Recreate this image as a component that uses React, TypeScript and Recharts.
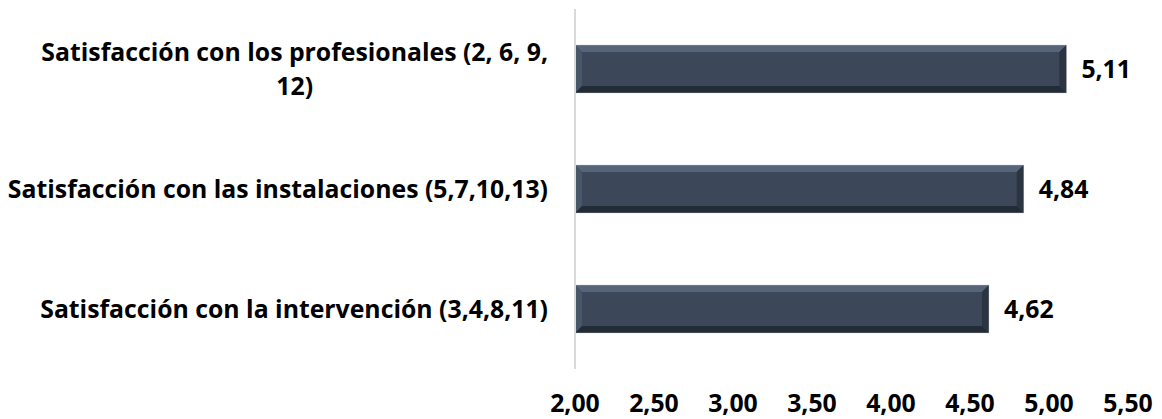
import React from 'react';
import { BarChart, Bar, XAxis, YAxis, LabelList } from 'recharts';

const categories = [
  'Satisfacción con los profesionales (2, 6, 9, 12)',
  'Satisfacción con las instalaciones (5,7,10,13)',
  'Satisfacción con la intervención (3,4,8,11)',
];
const scores = [5.11, 4.84, 4.62];
const xTicks = [2, 2.5, 3, 3.5, 4, 4.5, 5, 5.5];

const data = categories.map((name, i) => ({ name, score: scores[i] }));

const FONT = '"Open Sans", sans-serif';
const FONT_SIZE = 24.8;
const fmt = (v: number) => v.toFixed(2).replace('.', ',');

let ctx: CanvasRenderingContext2D | null = null;
const measure = (s: string) => {
  if (!ctx) ctx = document.createElement('canvas').getContext('2d');
  if (!ctx) return s.length * 11.7;
  ctx.font = `bold ${FONT_SIZE}px "Open Sans"`;
  return ctx.measureText(s).width;
};

// greedy wrap by pixel width, like the office chart does
const wrap = (label: string, maxW: number) => {
  const words = label.split(' ');
  const lines: string[] = [];
  let cur = '';
  words.forEach((w) => {
    const next = cur ? cur + ' ' + w : w;
    if (cur && measure(next) > maxW) {
      lines.push(cur);
      cur = w;
    } else cur = next;
  });
  if (cur) lines.push(cur);
  return lines;
};

const CategoryTick = (props: any) => {
  const { x, y, payload } = props;
  const lines = wrap(payload.value, 544);
  const blockW = Math.max(...lines.map(measure));
  const cx = x - blockW / 2;
  const lh = 34;
  const startY = y - ((lines.length - 1) * lh) / 2;
  return (
    <g>
      {lines.map((l, i) => (
        <text
          key={i}
          x={cx}
          y={startY + i * lh}
          dy="0.35em"
          textAnchor="middle"
          fill="#000"
          fontFamily={FONT}
          fontWeight="bold"
          fontSize={FONT_SIZE}
        >
          {l}
        </text>
      ))}
    </g>
  );
};

const BevelBar = (props: any) => {
  const { x, y, width, height } = props;
  if (!width || width <= 0) return null;
  const b = 7;
  const r = x + width;
  const bt = y + height;
  return (
    <g>
      <rect x={x} y={y} width={width} height={height} fill="#3c4859" />
      <polygon points={`${x},${y} ${r},${y} ${r - b},${y + b} ${x + b},${y + b}`} fill="#56657a" />
      <polygon points={`${x},${y} ${x + b},${y + b} ${x + b},${bt - b} ${x},${bt}`} fill="#48566a" />
      <polygon points={`${r},${y} ${r},${bt} ${r - b},${bt - b} ${r - b},${y + b}`} fill="#2b3441" />
      <polygon points={`${x},${bt} ${x + b},${bt - b} ${r - b},${bt - b} ${r},${bt}`} fill="#232b36" />
      <rect x={x} y={y} width={width} height={height} fill="none" stroke="#c9ced6" strokeOpacity={0.5} strokeWidth={0.8} />
    </g>
  );
};

export default function App() {
  return (
    <div style={{ position: 'absolute', left: 0, top: 0, background: '#fff' }}>
      <BarChart
        width={1162}
        height={419}
        data={data}
        layout="vertical"
        barCategoryGap="30%"
        margin={{ top: 9, right: 34, bottom: 0, left: 0 }}
      >
        <XAxis
          type="number"
          domain={[2, 5.5]}
          ticks={xTicks}
          tickFormatter={fmt}
          axisLine={false}
          tickLine={false}
          height={50}
          tickSize={0}
          tickMargin={25}
          allowDataOverflow
          tick={{ fill: '#000', fontFamily: FONT, fontWeight: 'bold', fontSize: FONT_SIZE }}
        />
        <YAxis
          type="category"
          dataKey="name"
          width={575}
          axisLine={{ stroke: '#d9d9d9', strokeWidth: 2 }}
          tickLine={false}
          tickSize={0}
          tickMargin={27}
          tick={<CategoryTick />}
        />
        <Bar dataKey="score" shape={<BevelBar />} isAnimationActive={false}>
          <LabelList
            dataKey="score"
            position="right"
            offset={15}
            formatter={(v: any) => fmt(Number(v))}
            fill="#000"
            fontFamily={FONT}
            fontWeight="bold"
            fontSize={FONT_SIZE}
          />
        </Bar>
      </BarChart>
    </div>
  );
}
